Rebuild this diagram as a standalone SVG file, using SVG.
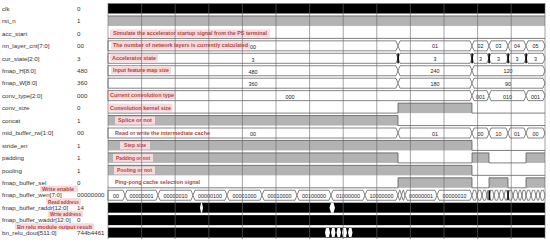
<svg xmlns="http://www.w3.org/2000/svg" width="550" height="243" viewBox="0 0 550 243">
<style>
.nm{font-family:"Liberation Sans",Arial,sans-serif;font-size:6.2px;fill:#333}
.bl{font-family:"Liberation Sans",Arial,sans-serif;font-size:5.4px;fill:#222;text-anchor:middle}
.an{font-family:"Liberation Sans",Arial,sans-serif;font-size:5.2px;font-weight:bold;fill:#b3463c}
.pk{fill:#f8d9de}
.hi{fill:#b3b3b3;stroke:none}
.ln{stroke:#4a4a4a;stroke-width:0.7;fill:none}
.bus{fill:#fff;stroke:#333;stroke-width:0.6}
.blk{fill:#000}
.wg{fill:#fff}
.grid{stroke:#666;stroke-width:0.6}
</style>
<rect width="550" height="243" fill="#fff"/>

<g id="clk" transform="translate(0,8.5)">
<text class="nm" x="2" y="2.2">clk</text><text class="nm" x="77" y="2.2">0</text>
<rect class="blk" x="108" y="-5" width="437" height="10"/>
</g>
<g id="rst_n" transform="translate(0,20.95)">
<text class="nm" x="2" y="2.2">rst_n</text><text class="nm" x="77" y="2.2">1</text>
<rect class="hi" x="108" y="-5" width="437" height="10"/>
<path class="ln" d="M108,-5H545"/>
</g>
<g id="acc_start" transform="translate(0,33.4)">
<text class="nm" x="2" y="2.2">acc_start</text><text class="nm" x="77" y="2.2">0</text>
<path class="ln" d="M108,5H545"/>
<rect class="pk" x="110" y="-4" width="160" height="8"/>
<text class="an" x="113" y="1.8" textLength="154" lengthAdjust="spacingAndGlyphs">Simulate the accelerator startup signal from the PS terminal</text>
</g>
<g id="nn_layer_cnt" transform="translate(0,45.85)">
<text class="nm" x="2" y="2.2">nn_layer_cnt[7:0]</text><text class="nm" x="77" y="2.2">00</text>
<path class="bus" d="M108,-5H396L398,0L396,5H108Z"/>
<path class="bus" d="M398,0L400,-5H470L472,0L470,5H400Z"/>
<path class="bus" d="M472,0L474,-5H487L489,0L487,5H474Z"/>
<path class="bus" d="M489,0L491,-5H506L508,0L506,5H491Z"/>
<path class="bus" d="M508,0L510,-5H524L526,0L524,5H510Z"/>
<path class="bus" d="M526,0L528,-5H543L545,0L543,5H528Z"/>
<rect class="pk" x="111" y="-4.5" width="139" height="8"/>
<text class="an" x="113" y="1.3" textLength="135" lengthAdjust="spacingAndGlyphs">The number of network layers is currently calculated</text>
<text class="bl" x="253" y="3.2">00</text><text class="bl" x="435" y="2.5">01</text>
<text class="bl" x="480.5" y="2.5">02</text><text class="bl" x="498.5" y="2.5">03</text><text class="bl" x="517" y="2.5">04</text><text class="bl" x="535.5" y="2.5">05</text>
</g>
<g id="cur_state" transform="translate(0,58.3)">
<text class="nm" x="2" y="2.2">cur_state[2:0]</text><text class="nm" x="77" y="2.2">3</text>
<path class="bus" d="M108,-5H396L398,0L396,5H108Z"/>
<path class="bus" d="M398,0L400,-5H470L472,0L470,5H400Z"/>
<path class="bus" d="M472,0L474,-5H487L489,0L487,5H474Z"/>
<path class="bus" d="M489,0L491,-5H506L508,0L506,5H491Z"/>
<path class="bus" d="M508,0L510,-5H524L526,0L524,5H510Z"/>
<path class="bus" d="M526,0L528,-5H543L545,0L543,5H528Z"/>
<rect class="blk" x="397.3" y="-5" width="1.6" height="10"/>
<rect class="blk" x="471.3" y="-5" width="1.6" height="10"/>
<rect class="blk" x="488.3" y="-5" width="1.6" height="10"/>
<rect class="blk" x="507.3" y="-5" width="1.6" height="10"/>
<rect class="blk" x="525.3" y="-5" width="1.6" height="10"/>
<rect class="pk" x="110" y="-4.5" width="48" height="8"/>
<text class="an" x="112" y="1.5" textLength="44" lengthAdjust="spacingAndGlyphs">Accelerator state</text>
<text class="bl" x="253" y="3.2">3</text><text class="bl" x="435" y="2.5">3</text>
<text class="bl" x="480.5" y="2.5">3</text><text class="bl" x="498.5" y="2.5">3</text><text class="bl" x="517" y="2.5">3</text><text class="bl" x="535.5" y="2.5">3</text>
</g>
<g id="fmap_H" transform="translate(0,70.75)">
<text class="nm" x="2" y="2.2">fmap_H[8:0]</text><text class="nm" x="77" y="2.2">480</text>
<path class="bus" d="M108,-5H396L398,0L396,5H108Z"/>
<path class="bus" d="M398,0L400,-5H470L472,0L470,5H400Z"/>
<path class="bus" d="M472,0L474,-5H543L545,0L543,5H474Z"/>
<rect class="pk" x="111" y="-4.5" width="60" height="8"/>
<text class="an" x="113" y="1.5" textLength="56" lengthAdjust="spacingAndGlyphs">Input feature map size</text>
<text class="bl" x="253" y="3">480</text><text class="bl" x="435" y="2.5">240</text><text class="bl" x="508" y="2.5">120</text>
</g>
<g id="fmap_W" transform="translate(0,83.2)">
<text class="nm" x="2" y="2.2">fmap_W[8:0]</text><text class="nm" x="77" y="2.2">360</text>
<path class="bus" d="M108,-5H396L398,0L396,5H108Z"/>
<path class="bus" d="M398,0L400,-5H470L472,0L470,5H400Z"/>
<path class="bus" d="M472,0L474,-5H543L545,0L543,5H474Z"/>
<text class="bl" x="253" y="3">360</text><text class="bl" x="435" y="2.5">180</text><text class="bl" x="508" y="2.5">90</text>
</g>
<g id="conv_type" transform="translate(0,95.65)">
<text class="nm" x="2" y="2.2">conv_type[2:0]</text><text class="nm" x="77" y="2.2">000</text>
<path class="bus" d="M108,-5H470L472,0L470,5H108Z"/>
<path class="bus" d="M472,0L474,-5H487L489,0L487,5H474Z"/>
<path class="bus" d="M489,0L491,-5H524L526,0L524,5H491Z"/>
<path class="bus" d="M526,0L528,-5H543L545,0L543,5H528Z"/>
<rect class="pk" x="108.5" y="-4.5" width="67" height="8"/>
<text class="an" x="110" y="1.5" textLength="64" lengthAdjust="spacingAndGlyphs">Current convolution type</text>
<text class="bl" x="290" y="3">000</text>
<text class="bl" x="480.5" y="3">001</text><text class="bl" x="507.5" y="3">010</text><text class="bl" x="535.5" y="3">001</text>
</g>
<g id="conv_size" transform="translate(0,108.1)">
<text class="nm" x="2" y="2.2">conv_size</text><text class="nm" x="77" y="2.2">0</text>
<rect class="hi" x="398" y="-5" width="74" height="10"/>
<path class="ln" d="M108,5H398V-5H472V5H545"/>
<rect class="pk" x="108.5" y="-4.5" width="64" height="8"/>
<text class="an" x="110" y="1.5" textLength="61" lengthAdjust="spacingAndGlyphs">Convolution kernel size</text>
</g>
<g id="concat" transform="translate(0,120.55)">
<text class="nm" x="2" y="2.2">concat</text><text class="nm" x="77" y="2.2">1</text>
<rect class="hi" x="108" y="-5" width="290" height="10"/>
<path class="ln" d="M108,-5H398V5H545"/>
<rect class="pk" x="115" y="-4" width="40" height="8"/>
<text class="an" x="118" y="1.8" textLength="34" lengthAdjust="spacingAndGlyphs">Splice or not</text>
</g>
<g id="mid_buffer_rw" transform="translate(0,133)">
<text class="nm" x="2" y="2.2">mid_buffer_rw[1:0]</text><text class="nm" x="77" y="2.2">00</text>
<path class="bus" d="M108,-5H396L398,0L396,5H108Z"/>
<path class="bus" d="M398,0L400,-5H470L472,0L470,5H400Z"/>
<path class="bus" d="M472,0L474,-5H487L489,0L487,5H474Z"/>
<path class="bus" d="M489,0L491,-5H506L508,0L506,5H491Z"/>
<path class="bus" d="M508,0L510,-5H524L526,0L524,5H510Z"/>
<path class="bus" d="M526,0L528,-5H543L545,0L543,5H528Z"/>
<text class="an" x="115" y="1.5" textLength="95" lengthAdjust="spacingAndGlyphs">Read or write the intermediate cache</text>
<text class="bl" x="253" y="2.5">00</text><text class="bl" x="435" y="2.5">01</text>
<text class="bl" x="480.5" y="2.5">00</text><text class="bl" x="498.5" y="2.5">10</text><text class="bl" x="517" y="2.5">01</text><text class="bl" x="535.5" y="2.5">00</text>
</g>
<g id="stride_en" transform="translate(0,145.45)">
<text class="nm" x="2" y="2.2">stride_en</text><text class="nm" x="77" y="2.2">1</text>
<rect class="hi" x="108" y="-5" width="364" height="10"/>
<path class="ln" d="M108,-5H472V5H545"/>
<rect class="pk" x="120" y="-4" width="30" height="8"/>
<text class="an" x="124" y="1.8" textLength="22" lengthAdjust="spacingAndGlyphs">Step size</text>
</g>
<g id="padding" transform="translate(0,157.9)">
<text class="nm" x="2" y="2.2">padding</text><text class="nm" x="77" y="2.2">1</text>
<rect class="hi" x="108" y="-5" width="290" height="10"/>
<rect class="hi" x="472" y="-5" width="17" height="10"/>
<rect class="hi" x="526" y="-5" width="19" height="10"/>
<path class="ln" d="M108,-5H398V5H472V-5H489V5H526V-5H545"/>
<rect class="pk" x="113" y="-4" width="40" height="8"/>
<text class="an" x="116" y="1.8" textLength="34" lengthAdjust="spacingAndGlyphs">Padding or not</text>
</g>
<g id="pooling" transform="translate(0,170.35)">
<text class="nm" x="2" y="2.2">pooling</text><text class="nm" x="77" y="2.2">1</text>
<rect class="hi" x="108" y="-5" width="364" height="10"/>
<path class="ln" d="M108,-5H472V5H545"/>
<rect class="pk" x="114" y="-4" width="41" height="8"/>
<text class="an" x="117" y="1.8" textLength="35" lengthAdjust="spacingAndGlyphs">Pooling or not</text>
</g>
<g id="fmap_buffer_sel" transform="translate(0,182.8)">
<text class="nm" x="2" y="2.2">fmap_buffer_sel</text><text class="nm" x="77" y="2.2">0</text>
<rect class="hi" x="398" y="-5" width="74" height="10"/>
<rect class="hi" x="489" y="-5" width="19" height="10"/>
<rect class="hi" x="526" y="-5" width="19" height="10"/>
<path class="ln" d="M108,5H398V-5H472V5H489V-5H508V5H526V-5H545"/>
<text class="an" x="115" y="1.5" textLength="85" lengthAdjust="spacingAndGlyphs">Ping-pong cache selection signal</text>
</g>
<g id="fmap_buffer_wen" transform="translate(0,195.25)">
<text class="nm" x="2" y="2.2">fmap_buffer_wen[7:0]</text><text class="nm" x="77" y="2.2">00000000</text>
<path class="bus" d="M108,-5H123L125,0L123,5H108Z"/>
<path class="bus" d="M125,0L127,-5H156L158,0L156,5H127Z"/>
<path class="bus" d="M158,0L160,-5H191L193,0L191,5H160Z"/>
<path class="bus" d="M193,0L195,-5H225L227,0L225,5H195Z"/>
<path class="bus" d="M227,0L229,-5H260L262,0L260,5H229Z"/>
<path class="bus" d="M262,0L264,-5H295L297,0L295,5H264Z"/>
<path class="bus" d="M297,0L299,-5H329L331,0L329,5H299Z"/>
<path class="bus" d="M331,0L333,-5H363L365,0L363,5H333Z"/>
<path class="bus" d="M365,0L367,-5H396L398,0L396,5H367Z"/>
<path class="bus" d="M398,0L399.5,-5H400L401.5,0L400,5H399.5Z"/>
<path class="bus" d="M401.5,0L403,-5H403.5L405,0L403.5,5H403Z"/>
<path class="bus" d="M405,0L407,-5H435L437,0L435,5H407Z"/>
<path class="bus" d="M437,0L439,-5H470L472,0L470,5H439Z"/>
<path class="bus" d="M472,0L473.5,-5H475.5L477,0L475.5,5H473.5Z M477,0L478.5,-5H480.5L482,0L480.5,5H478.5Z M482,0L483.5,-5H485.5L487,0L485.5,5H483.5Z M487,0L488,-5H488L489,0L488,5H488Z M489,0L490.5,-5H492.5L494,0L492.5,5H490.5Z M494,0L495.5,-5H497.5L499,0L497.5,5H495.5Z M499,0L500.5,-5H502.5L504,0L502.5,5H500.5Z M504,0L505.5,-5H506.5L508,0L506.5,5H505.5Z M508,0L509.5,-5H511.5L513,0L511.5,5H509.5Z M513,0L514.5,-5H516.5L518,0L516.5,5H514.5Z M518,0L519.5,-5H520.5L522,0L520.5,5H519.5Z M522,0L523,-5H525L526,0L525,5H523Z M526,0L527.5,-5H529.5L531,0L529.5,5H527.5Z M531,0L532.5,-5H534.5L536,0L534.5,5H532.5Z M536,0L537.5,-5H538.5L540,0L538.5,5H537.5Z M540,0L541.5,-5H543.5L545,0L543.5,5H541.5Z"/>
<rect class="blk" x="488.8" y="-5" width="1.5" height="10"/>
<rect class="blk" x="507.3" y="-5" width="1.5" height="10"/>
<text class="bl" x="116" y="2.5">00</text>
<text class="bl" x="141.5" y="2.5">00000001</text><text class="bl" x="175.5" y="2.5">00000010</text>
<text class="bl" x="210" y="2.5">00000100</text><text class="bl" x="244.5" y="2.5">00001000</text>
<text class="bl" x="279.5" y="2.5">00010000</text><text class="bl" x="314" y="2.5">00100000</text>
<text class="bl" x="348" y="2.5">01000000</text><text class="bl" x="381.5" y="2.5">10000000</text>
<text class="bl" x="421" y="2.5">00000001</text><text class="bl" x="454.5" y="2.5">00000010</text>
</g>
<g id="fmap_buffer_raddr" transform="translate(0,207.7)">
<text class="nm" x="2" y="2.2">fmap_buffer_raddr[12:0]</text><text class="nm" x="77" y="2.2">14</text>
<rect class="blk" x="108" y="-5" width="437" height="10"/>
<path class="wg" d="M200,0L201,-5H202L203,0L202,5H201Z"/>
<path class="wg" d="M329.5,0L331,-5H333.5L335,0L333.5,5H331Z"/>
</g>
<g id="fmap_buffer_waddr" transform="translate(0,220.15)">
<text class="nm" x="2" y="2.2">fmap_buffer_waddr[12:0]</text><text class="nm" x="77" y="2.2">0</text>
<rect class="blk" x="108" y="-5" width="437" height="10"/>
</g>
<g id="bn_relu_dout" transform="translate(0,232.6)">
<text class="nm" x="2" y="2.2">bn_relu_dout[511:0]</text><text class="nm" x="77" y="2.2">744b4461</text>
<rect class="blk" x="108" y="-5" width="437" height="10"/>
<path class="wg" d="M325,0L326,-4.5H329L330,0L329,4.5H326Z M331,0L332,-4.5H334.5L335.5,0L334.5,4.5H332Z M336.5,0L337.5,-4.5H340L341,0L340,4.5H337.5Z M342,0L343,-4.5H346L347,0L346,4.5H343Z M348,0L349,-4.5H351.5L352.5,0L351.5,4.5H349Z"/>
</g>

<g id="side_notes">
<rect class="pk" x="40" y="185.6" width="38" height="6.5"/>
<text class="an" x="42" y="191.2" textLength="32" lengthAdjust="spacingAndGlyphs">Write enable</text>
<rect class="pk" x="46" y="198.2" width="35" height="6.5"/>
<text class="an" x="48" y="203.7" textLength="31" lengthAdjust="spacingAndGlyphs">Read address</text>
<rect class="pk" x="48" y="210.6" width="35" height="6.5"/>
<text class="an" x="50" y="216" textLength="31" lengthAdjust="spacingAndGlyphs">Write address</text>
<rect class="pk" x="15" y="223.2" width="79" height="6.5"/>
<text class="an" x="17" y="228.7" textLength="75" lengthAdjust="spacingAndGlyphs">Bn relu module output result</text>
</g>

<g id="connectors">
<path class="grid" d="M108,3V239M141.6,3V239M175.2,3V239M208.8,3V239M242.4,3V239M276,3V239M309.6,3V239M343.2,3V239M376.8,3V239M410.4,3V239M444,3V239M477.6,3V239M511.2,3V239M545,3V239"/>
</g>
</svg>
